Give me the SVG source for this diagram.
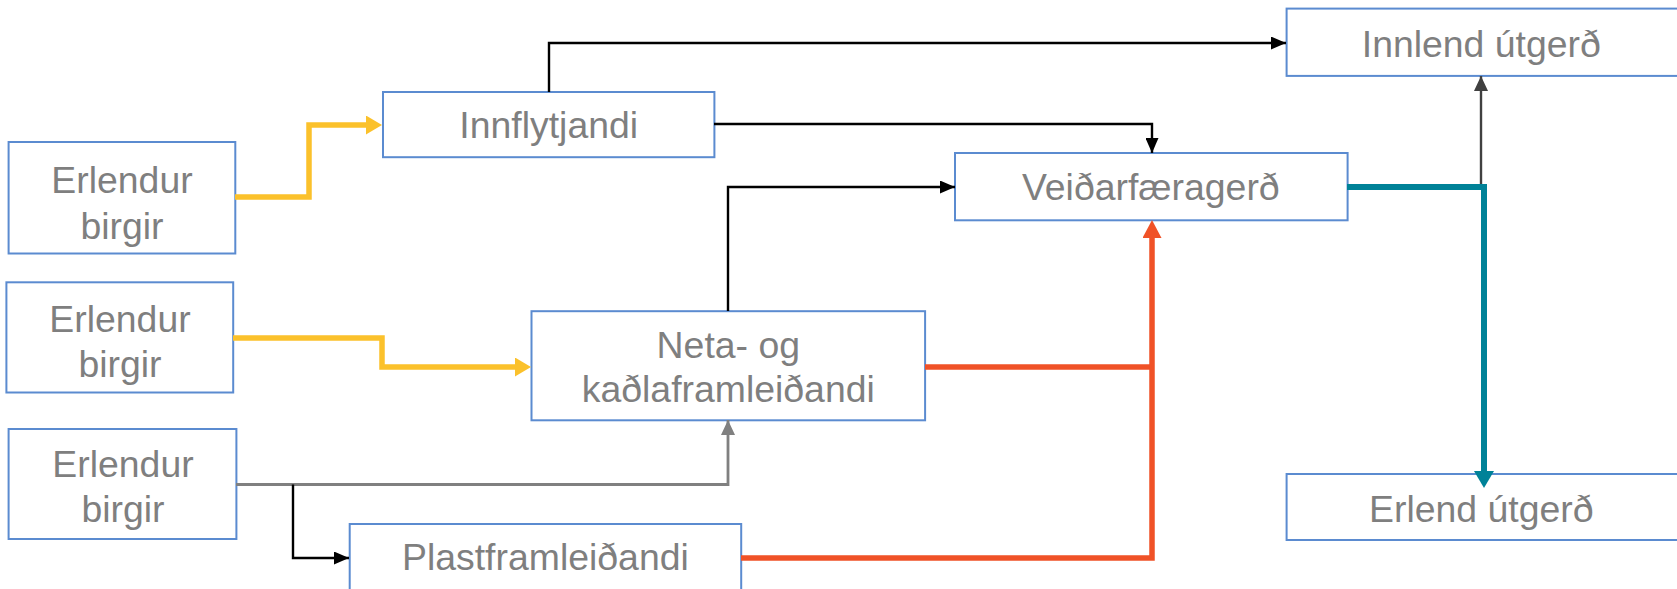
<svg xmlns="http://www.w3.org/2000/svg" width="1677" height="589" viewBox="0 0 1677 589">
<style>
.box{fill:#ffffff;stroke:#5b8bd0;stroke-width:2}
.t{font-family:"Liberation Sans",Arial,sans-serif;font-size:37.4px;fill:#7f7f7f;text-anchor:middle}
.c{fill:none;stroke-linejoin:miter}
.k{stroke:#000000;stroke-width:2.4}
.y{stroke:#fbc12b;stroke-width:5.5}
.o{stroke:#f05227;stroke-width:5.5}
.g{stroke:#808080;stroke-width:2.8}
.d{stroke:#404040;stroke-width:2.4}
.tl{stroke:#008298;stroke-width:6}
</style>
<defs>
<marker id="ak" viewBox="0 0 10 10" refX="10" refY="5" markerWidth="15" markerHeight="13" markerUnits="userSpaceOnUse" orient="auto" preserveAspectRatio="none"><path d="M0,0 L10,5 L0,10 z" fill="#000000"/></marker>
<marker id="ay" viewBox="0 0 10 10" refX="0" refY="5" markerWidth="16" markerHeight="19" markerUnits="userSpaceOnUse" orient="auto" preserveAspectRatio="none"><path d="M0,0 L10,5 L0,10 z" fill="#fbc12b"/></marker>
<marker id="ao" viewBox="0 0 10 10" refX="0" refY="5" markerWidth="18" markerHeight="19" markerUnits="userSpaceOnUse" orient="auto" preserveAspectRatio="none"><path d="M0,0 L10,5 L0,10 z" fill="#f05227"/></marker>
<marker id="ag" viewBox="0 0 10 10" refX="10" refY="5" markerWidth="15" markerHeight="14" markerUnits="userSpaceOnUse" orient="auto" preserveAspectRatio="none"><path d="M0,0 L10,5 L0,10 z" fill="#808080"/></marker>
<marker id="ad" viewBox="0 0 10 10" refX="10" refY="5" markerWidth="15" markerHeight="14" markerUnits="userSpaceOnUse" orient="auto" preserveAspectRatio="none"><path d="M0,0 L10,5 L0,10 z" fill="#404040"/></marker>
<marker id="at" viewBox="0 0 10 10" refX="0" refY="5" markerWidth="17" markerHeight="20" markerUnits="userSpaceOnUse" orient="auto" preserveAspectRatio="none"><path d="M0,0 L10,5 L0,10 z" fill="#008298"/></marker>
</defs>
<g id="eb1"><rect class="box" x="8.6" y="142" width="226.7" height="111.5"/><text class="t" x="122" y="192.5">Erlendur</text><text class="t" x="122" y="238.5">birgir</text></g>
<g id="eb2"><rect class="box" x="6.4" y="282.3" width="226.8" height="110.2"/><text class="t" x="120" y="331.5">Erlendur</text><text class="t" x="120" y="376.5">birgir</text></g>
<g id="eb3"><rect class="box" x="8.6" y="429" width="227.8" height="110"/><text class="t" x="123" y="477">Erlendur</text><text class="t" x="123" y="522">birgir</text></g>
<g id="innflytjandi"><rect class="box" x="383" y="92" width="331.4" height="65.2"/><text class="t" x="548.7" y="138">Innflytjandi</text></g>
<g id="neta"><rect class="box" x="531.5" y="311.2" width="393.6" height="109.1"/><text class="t" x="728.3" y="358.3">Neta- og</text><text class="t" x="728.3" y="402.1">kaðlaframleiðandi</text></g>
<g id="plast"><rect class="box" x="349.7" y="524" width="391.5" height="80"/><text class="t" x="545.4" y="570">Plastframleiðandi</text></g>
<g id="veidarfaeragerd"><rect class="box" x="955" y="153" width="392.6" height="67.3"/><text class="t" x="1150.8" y="200">Veiðarfæragerð</text></g>
<g id="innlend"><rect class="box" x="1286.6" y="8.6" width="392" height="67.3"/><text class="t" x="1481.3" y="56.7">Innlend útgerð</text></g>
<g id="erlend"><rect class="box" x="1286.6" y="474" width="392" height="66"/><text class="t" x="1481.3" y="522">Erlend útgerð</text></g>
<g id="connectors">
<path class="c y" d="M235,197 H309 V125 H366" marker-end="url(#ay)"/>
<path class="c k" d="M549,92 V43 H1286" marker-end="url(#ak)"/>
<path class="c k" d="M714,124 H1152 V153" marker-end="url(#ak)"/>
<path class="c k" d="M728,311 V187 H955" marker-end="url(#ak)"/>
<path class="c y" d="M233,338 H382 V367 H515" marker-end="url(#ay)"/>
<path class="c g" d="M236,484.5 H728 V420" marker-end="url(#ag)"/>
<path class="c k" d="M293,484.5 V558 H349" marker-end="url(#ak)"/>
<path class="c o" d="M925,367 H1152"/>
<path class="c o" d="M741,558 H1152 V238" marker-end="url(#ao)"/>
<path class="c d" d="M1481,187 V76" marker-end="url(#ad)"/>
<path class="c tl" d="M1347,187 H1484 V471" marker-end="url(#at)"/>
</g>
</svg>
